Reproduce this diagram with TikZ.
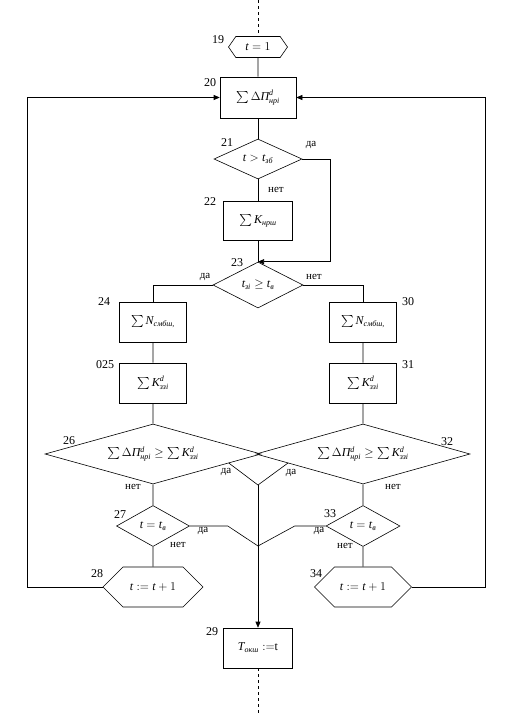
\documentclass[tikz,border=0pt]{standalone}
\usepackage{amsmath}
\usepackage{fontspec}
\setmainfont{Liberation Serif}
\usetikzlibrary{arrows.meta,shapes.geometric,shapes.symbols,calc}

\newcommand{\itx}[1]{\text{\itshape #1}}

\begin{document}
\begin{tikzpicture}[x=1pt, y=-1pt, font=\fontsize{12}{14}\selectfont, line width=0.6pt,
      box/.style={draw, minimum width=69pt, minimum height=40pt, inner sep=1pt},
      cond/.style={draw, diamond, inner sep=0pt},
      prep/.style={draw, signal, signal to=west and east, inner sep=0pt},
      num/.style={font=\fontsize{12}{14}\selectfont},
      ans/.style={font=\fontsize{11}{13}\selectfont},
      arr/.style={-{Triangle[length=6pt,width=5pt]}}]
    \useasboundingbox (0,0) rectangle (507,713);
    \coordinate (top) at (258,0);
    \coordinate (bot) at (258,713);

    % central column
    \node[prep, minimum width=59pt, minimum height=21pt, signal pointer angle=110] (n19) at (258,47) {$\itx{t}=1$};
    \node[box, minimum width=76pt, minimum height=41pt] (n20) at (258,97.5) {$\sum\Delta\itx{П}^{\itx{d}}_{\itx{нрі}}$};
    \node[cond, minimum width=88pt, minimum height=40pt, aspect=2.2] (n21) at (258,159) {$\itx{t}>\itx{t}_{\itx{зб}}$};
    \node[box, minimum height=39pt] (n22) at (258,220.5) {$\sum\itx{K}_{\itx{нрш}}$};
    \node[cond, minimum width=90pt, minimum height=46pt, aspect=1.96] (n23) at (258,285) {$\itx{t}_{\itx{зі}}\geq\itx{t}_{\itx{в}}$};

    % left branch
    \node[box, minimum width=67pt] (n24) at (153,322) {$\sum\itx{N}_{\itx{смбш,}}$};
    \node[box, minimum width=67pt] (n25) at (153,383) {$\sum\itx{K}^{\itx{d}}_{\itx{ззі}}$};
    \node[cond, minimum width=216pt, minimum height=60pt, aspect=3.6] (n26) at (153,454)
      {$\sum\Delta\itx{П}^{\itx{d}}_{\itx{нрі}}\geq\sum\itx{K}^{\itx{d}}_{\itx{ззі}}$};
    \node[cond, minimum width=73pt, minimum height=41pt, aspect=1.78] (n27) at (153,526) {$\itx{t}=\itx{t}_{\itx{в}}$};
    \node[prep, minimum width=100pt, minimum height=40pt, signal pointer angle=90] (n28) at (153,587) {$\itx{t}:=\itx{t}+1$};

    % right branch
    \node[box, minimum width=67pt] (n30) at (363,322) {$\sum\itx{N}_{\itx{смбш,}}$};
    \node[box, minimum width=67pt] (n31) at (363,383) {$\sum\itx{K}^{\itx{d}}_{\itx{ззі}}$};
    \node[cond, minimum width=214pt, minimum height=60pt, aspect=3.6] (n32) at (363,454)
      {$\sum\Delta\itx{П}^{\itx{d}}_{\itx{нрі}}\geq\sum\itx{K}^{\itx{d}}_{\itx{ззі}}$};
    \node[cond, minimum width=74pt, minimum height=41pt, aspect=1.78] (n33) at (363,526) {$\itx{t}=\itx{t}_{\itx{в}}$};
    \node[prep, minimum width=97pt, minimum height=40pt, signal pointer angle=90] (n34) at (363,587) {$\itx{t}:=\itx{t}+1$};

    \node[box] (n29) at (258,648) {$\itx{T}_{\itx{окш}}:=$t};

    % numbers
    \foreach \n/\px/\py in {19/218/40, 20/210/83, 21/227/143, 22/210/202, 23/237/263,
        24/104/302, 025/105/365, 30/408/302, 31/408/365, 26/69/441, 32/447/442,
        27/120/515, 33/330/514, 28/97/574, 34/316/574, 29/212/632} {
      \node[num] (l\n) at (\px,\py) {\n};
    }
    % yes / no
    \foreach \t/\px/\py [count=\i] in {да/311/145, нет/276/190, да/205/277, нет/314/277,
        да/226/472, нет/133/487, да/291/473, нет/393/487,
        да/203/531, нет/178/545, да/319/531, нет/345/546} {
      \node[ans] (a\i) at (\px,\py) {\t};
    }

    % connectors
    \draw[dashed] (top) -- (n19.north);
    \draw (n19) -- (n20);
    \draw (n20) -- (n21);
    \draw (n21) -- (n22);
    \draw (n22) -- (n23);
    \draw[arr] (n21.east) -- ++(28,0) |- (n23.north);
    \draw (n23.west) -| (n24);
    \draw (n23.east) -| (n30);
    \draw (n24) -- (n25) -- (n26) -- (n27) -- (n28);
    \draw (n30) -- (n31) -- (n32) -- (n33) -- (n34);
    \draw[arr] (n28.west) -- ++(-75,0) |- (n20.west);
    \draw[arr] (n34.east) -- ++(73,0) |- (n20.east);

    \coordinate (v26) at ($(n26.south)!0.7!(n26.east)$);
    \coordinate (v32) at ($(n32.south)!0.7!(n32.west)$);
    \coordinate (vj) at (258,485);
    \coordinate (vk) at (258,546);
    \draw (v26) -- (vj) -- (v32);
    \draw (n27.east) -- ++(38,0) -- (vk);
    \draw (n33.west) -- ++(-31,0) -- (vk);
    \draw[arr] (vj) -- (n29.north);
    \draw[dashed] (n29.south) -- (bot);
  \end{tikzpicture}
\end{document}
